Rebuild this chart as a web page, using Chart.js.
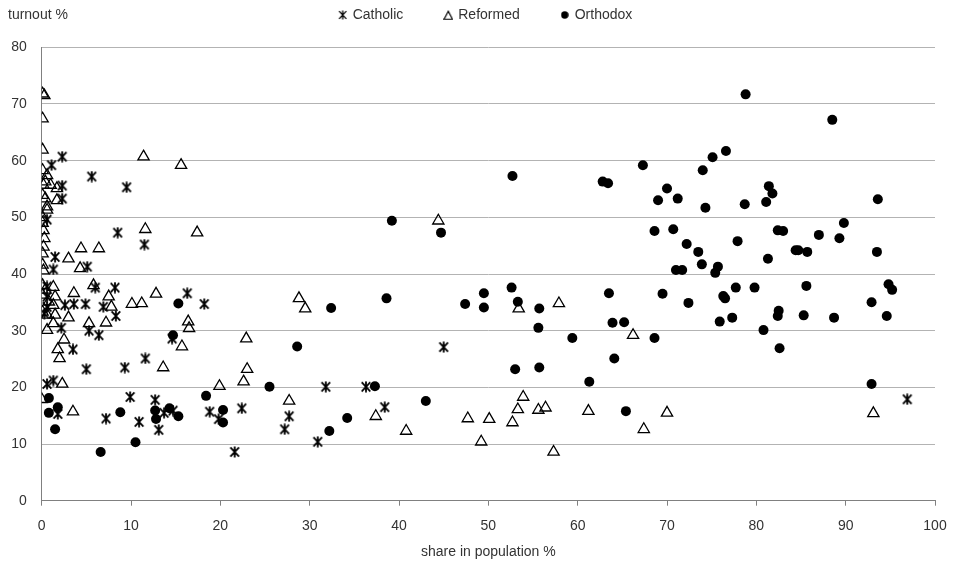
<!DOCTYPE html>
<html>
<head>
<meta charset="utf-8">
<script src="https://cdn.jsdelivr.net/npm/chart.js@4/dist/chart.umd.min.js"></script>
<style>
html,body{margin:0;padding:0;background:#fff;}
#wrap{width:955px;height:570px;position:relative;}
</style>
</head>
<body>
<div id="wrap"><canvas id="c" width="955" height="570"></canvas></div>
<script>
// ---- data ----
const seriesNames = ['Catholic', 'Reformed', 'Orthodox'];
const xAxisTitle = 'share in population %';
const yAxisTitle = 'turnout %';
const xTickValues = [0, 10, 20, 30, 40, 50, 60, 70, 80, 90, 100];
const yTickValues = [0, 10, 20, 30, 40, 50, 60, 70, 80];

const catholicShare = [2.3, 1.1, 5.6, 2.3, 9.5, 2.3, 0.6, 8.5, 11.5, 1.5, 5.1, 1.3, 0.6, 6.0, 8.2, 16.3, 0.6, 0.6, 2.6, 3.6, 4.9, 6.9, 18.2, 0.3, 8.3, 2.2, 5.3, 6.4, 14.6, 3.5, 45.0, 11.6, 9.3, 5.0, 1.3, 0.6, 31.8, 36.3, 9.9, 12.7, 96.9, 38.4, 22.4, 1.8, 13.7, 14.7, 18.8, 19.8, 7.2, 27.7, 10.9, 13.1, 27.2, 30.9, 21.6];
const catholicTurnout = [60.7, 59.2, 57.2, 55.6, 55.3, 53.3, 49.6, 47.3, 45.2, 43.0, 41.3, 40.8, 37.8, 37.6, 37.6, 36.6, 36.0, 34.2, 34.5, 34.7, 34.7, 34.2, 34.7, 33.0, 32.6, 30.5, 30.0, 29.2, 28.6, 26.7, 27.1, 25.1, 23.5, 23.2, 21.2, 20.6, 20.1, 20.1, 18.3, 17.8, 17.9, 16.5, 16.3, 15.3, 15.5, 15.9, 15.7, 14.4, 14.5, 14.9, 13.9, 12.5, 12.6, 10.4, 8.6];

const reformedShare = [0.1, 0.3, 0.1, 0.1, 11.4, 15.6, 0.1, 0.6, 0.4, 0.2, 1.0, 1.7, 0.1, 0.4, 1.7, 0.6, 0.6, 0.1, 0.1, 0.2, 11.6, 17.4, 0.3, 0.2, 4.4, 6.4, 0.1, 3.0, 0.1, 0.2, 4.3, 0.1, 5.8, 0.4, 1.3, 0.1, 1.5, 3.6, 7.5, 0.8, 1.3, 7.8, 10.1, 11.2, 12.8, 0.1, 0.6, 1.5, 3.0, 1.3, 5.3, 7.2, 16.4, 16.5, 0.6, 2.5, 15.7, 1.8, 2.0, 13.6, 2.3, 0.0, 3.5, 28.8, 29.5, 22.9, 23.0, 22.6, 19.9, 27.7, 37.4, 40.8, 44.4, 53.4, 57.9, 66.2, 53.9, 53.3, 55.6, 56.4, 61.2, 70.0, 47.7, 50.1, 52.7, 67.4, 49.2, 57.3, 93.1];
const reformedTurnout = [71.8, 71.5, 67.4, 61.9, 60.7, 59.2, 58.3, 57.4, 56.3, 55.7, 55.7, 55.1, 53.9, 53.3, 53.0, 51.9, 51.3, 50.0, 49.0, 47.7, 47.9, 47.3, 46.3, 44.8, 44.5, 44.5, 43.6, 42.7, 41.6, 40.6, 41.0, 38.0, 38.0, 37.2, 37.7, 36.3, 36.0, 36.6, 36.0, 35.1, 34.5, 34.2, 34.7, 34.8, 36.5, 33.3, 32.8, 32.8, 32.3, 31.3, 31.3, 31.4, 31.6, 30.4, 30.1, 28.4, 27.2, 26.7, 25.1, 23.5, 20.6, 17.9, 15.7, 35.7, 33.9, 28.6, 23.2, 21.0, 20.2, 17.6, 14.9, 12.3, 49.4, 33.9, 34.8, 29.2, 18.3, 16.1, 16.0, 16.4, 15.8, 15.5, 14.5, 14.4, 13.8, 12.6, 10.4, 8.6, 15.4];

const orthodoxShare = [0.8, 0.8, 1.8, 1.5, 8.8, 6.6, 10.5, 15.3, 14.7, 32.4, 38.6, 28.6, 25.5, 37.3, 43.0, 18.4, 12.7, 12.8, 14.3, 15.3, 20.3, 20.3, 32.2, 34.2, 39.2, 44.7, 52.7, 62.8, 63.4, 67.3, 70.0, 69.0, 71.2, 68.6, 70.7, 71.0, 71.7, 52.6, 49.5, 47.4, 49.5, 53.3, 55.7, 55.6, 63.5, 69.5, 63.9, 65.2, 59.4, 68.6, 64.1, 53.0, 55.7, 61.3, 65.4, 78.8, 88.5, 76.6, 75.1, 74.0, 74.3, 78.7, 81.4, 81.8, 81.1, 93.6, 72.2, 73.5, 73.9, 75.7, 75.4, 77.9, 81.3, 82.4, 83.0, 84.4, 84.7, 85.7, 87.0, 89.3, 89.8, 93.5, 72.4, 76.3, 76.5, 77.7, 79.8, 85.6, 75.9, 77.3, 80.8, 82.5, 82.4, 82.6, 85.3, 88.7, 92.9, 94.8, 95.2, 94.6, 92.9];
const orthodoxTurnout = [18.1, 15.5, 16.5, 12.6, 15.6, 8.6, 10.3, 34.8, 29.2, 34.0, 35.7, 27.2, 20.1, 20.2, 17.6, 18.5, 15.9, 14.4, 16.3, 14.9, 16.0, 13.8, 12.3, 14.6, 49.4, 47.3, 57.3, 56.3, 56.0, 59.2, 55.1, 53.0, 53.3, 47.6, 47.9, 40.7, 40.7, 37.6, 36.6, 34.7, 34.1, 35.1, 33.9, 30.5, 36.6, 36.5, 31.4, 31.5, 28.7, 28.7, 25.1, 23.2, 23.5, 21.0, 15.8, 71.7, 67.2, 61.7, 60.6, 58.3, 51.7, 52.3, 55.5, 54.2, 52.7, 53.2, 45.3, 43.9, 41.7, 41.3, 40.2, 45.8, 42.7, 47.7, 47.6, 44.2, 44.2, 43.9, 46.9, 46.3, 49.0, 43.9, 34.9, 36.1, 35.7, 37.6, 37.6, 37.9, 31.6, 32.3, 30.1, 33.5, 32.6, 26.9, 32.7, 32.3, 35.0, 38.2, 37.2, 32.6, 20.6];

// ---- helpers ----
function toPoints(xs, ys) { return xs.map((x, i) => ({ x: x, y: ys[i] })); }

function makeAsterisk(size, lw) {
  const c = document.createElement('canvas');
  c.width = size; c.height = size;
  const g = c.getContext('2d');
  const m = size / 2, r = size / 2 - 0.5, d = size * 0.36;
  g.strokeStyle = '#000'; g.lineWidth = lw; g.lineCap = 'butt';
  g.beginPath();
  g.moveTo(m, m - r); g.lineTo(m, m + r);
  g.moveTo(m - d, m - r * 0.85); g.lineTo(m + d, m + r * 0.85);
  g.moveTo(m + d, m - r * 0.85); g.lineTo(m - d, m + r * 0.85);
  g.stroke();
  return c;
}
function makeTriangle(size, lw) {
  const c = document.createElement('canvas');
  c.width = size; c.height = size;
  const g = c.getContext('2d');
  g.strokeStyle = '#000'; g.lineWidth = lw; g.lineJoin = 'miter';
  const h = size * 0.85;
  g.beginPath();
  g.moveTo(size / 2, (size - h) / 2 + 0.5);
  g.lineTo(size - 0.8, (size + h) / 2);
  g.lineTo(0.8, (size + h) / 2);
  g.closePath();
  g.stroke();
  return c;
}
function makeDot(size) {
  const c = document.createElement('canvas');
  c.width = size; c.height = size;
  const g = c.getContext('2d');
  g.fillStyle = '#000';
  g.beginPath(); g.arc(size / 2, size / 2, size / 2 - 0.3, 0, Math.PI * 2); g.fill();
  return c;
}

const asteriskMarker = makeAsterisk(12, 1.8);
const legendMarkers = [makeAsterisk(10, 1.3), makeTriangle(10, 1.2), makeDot(8)];

const FONT = '"Liberation Sans", Arial, Helvetica, sans-serif';
const TEXT = '#333333';
const LEGEND_PAD = 42;
const LEGEND_SHIFT = 13;
const CHART_TOP = 47.3;
const CHART_LEFT = 41.7;
const CHART_BOTTOM = 500.7;
const CHART_RIGHT = 935;
const LEFT_PAD = 11;

const legendSpacing = {
  id: 'legendSpacing',
  beforeInit(chart) {
    const origFit = chart.legend.fit;
    chart.legend.fit = function () {
      origFit.bind(chart.legend)();
      this.height = CHART_TOP;
    };
  },
  afterLayout(chart) {
    const lg = chart.legend;
    lg.top = 8 - LEGEND_PAD;
    lg.left += LEGEND_SHIFT;
    lg.right += LEGEND_SHIFT;
  }
};

const yTitlePlugin = {
  id: 'yTitle',
  afterDraw(chart) {
    const g = chart.ctx;
    g.save();
    g.font = '14px ' + FONT;
    g.fillStyle = TEXT;
    g.textAlign = 'left';
    g.textBaseline = 'middle';
    g.fillText(yAxisTitle, 8, 15);
    g.restore();
  }
};

Chart.defaults.font.family = FONT;
Chart.defaults.font.size = 14;
Chart.defaults.color = TEXT;

new Chart(document.getElementById('c'), {
  type: 'scatter',
  data: {
    datasets: [
      {
        label: seriesNames[0],
        data: toPoints(catholicShare, catholicTurnout),
        pointStyle: asteriskMarker,
        pointRadius: 6,
        backgroundColor: '#000',
        borderColor: '#000',
        order: 3
      },
      {
        label: seriesNames[1],
        data: toPoints(reformedShare, reformedTurnout),
        pointStyle: 'triangle',
        pointRadius: 6.5,
        pointBorderWidth: 1.3,
        backgroundColor: 'rgba(0,0,0,0)',
        borderColor: '#000',
        order: 2
      },
      {
        label: seriesNames[2],
        data: toPoints(orthodoxShare, orthodoxTurnout),
        pointStyle: 'circle',
        pointRadius: 5,
        pointBorderWidth: 0,
        backgroundColor: '#000',
        borderColor: '#000',
        order: 1
      }
    ]
  },
  options: {
    responsive: false,
    animation: false,
    devicePixelRatio: 1,
    layout: { padding: { left: LEFT_PAD, right: 955 - CHART_RIGHT, top: 0, bottom: 0 } },
    plugins: {
      legend: {
        display: true,
        position: 'top',
        align: 'center',
        labels: {
          usePointStyle: true,
          boxWidth: 6,
          boxHeight: 6,
          padding: LEGEND_PAD,
          color: TEXT,
          font: { size: 14, family: FONT },
          generateLabels(chart) {
            const items = Chart.defaults.plugins.legend.labels.generateLabels(chart);
            items.sort((a, b) => a.datasetIndex - b.datasetIndex);
            items.forEach((it) => { it.pointStyle = legendMarkers[it.datasetIndex]; });
            return items;
          }
        }
      },
      tooltip: { enabled: false }
    },
    scales: {
      x: {
        type: 'linear',
        position: 'bottom',
        min: xTickValues[0],
        max: xTickValues[xTickValues.length - 1],
        afterBuildTicks(scale) { scale.ticks = xTickValues.map(v => ({ value: v })); },
        afterFit(scale) {
          scale.height = 570 - CHART_BOTTOM;
          scale.paddingLeft = 0;
          scale.paddingRight = 0;
        },
        ticks: { padding: 12.5, color: TEXT, font: { size: 14 } },
        grid: { drawOnChartArea: false, drawTicks: true, tickLength: 5, color: '#808080', lineWidth: 1 },
        border: { color: '#808080', width: 1 },
        title: { display: true, text: xAxisTitle, color: TEXT, font: { size: 14 }, padding: { top: 9, bottom: 9 } }
      },
      y: {
        type: 'linear',
        min: yTickValues[0],
        max: yTickValues[yTickValues.length - 1],
        afterBuildTicks(scale) { scale.ticks = yTickValues.map(v => ({ value: v })); },
        afterFit(scale) { scale.width = CHART_LEFT - LEFT_PAD; },
        ticks: { padding: 15, color: TEXT, font: { size: 14 } },
        grid: { drawTicks: false, color: '#b3b3b3', lineWidth: 1 },
        border: { color: '#808080', width: 1 }
      }
    }
  },
  plugins: [legendSpacing, yTitlePlugin]
});
</script>
</body>
</html>
